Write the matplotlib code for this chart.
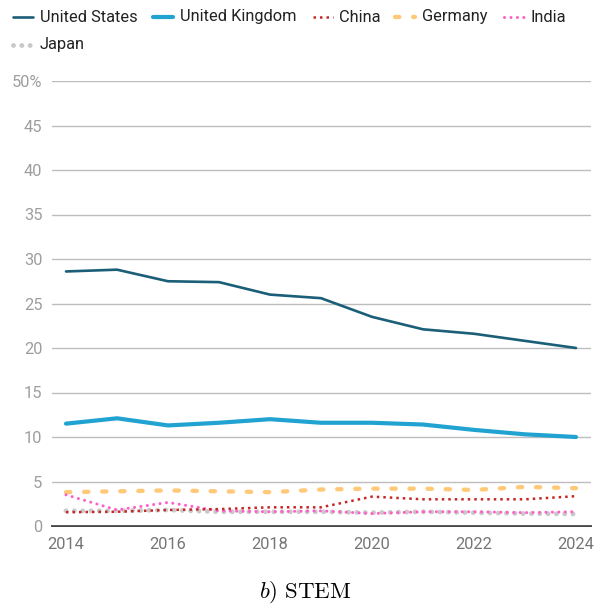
import matplotlib
matplotlib.use("Agg")
import matplotlib.pyplot as plt
from matplotlib.lines import Line2D

plt.rcParams['font.family'] = ['Roboto', 'DejaVu Sans']
plt.rcParams['mathtext.fontset'] = 'cm'

years = [2014, 2015, 2016, 2017, 2018, 2019, 2020, 2021, 2022, 2023, 2024]
united_states = [28.6, 28.8, 27.5, 27.4, 26.0, 25.6, 23.5, 22.1, 21.6, 20.8, 20.0]
united_kingdom = [11.5, 12.1, 11.3, 11.6, 12.0, 11.6, 11.6, 11.4, 10.8, 10.3, 10.0]
china = [1.55, 1.6, 1.8, 1.9, 2.1, 2.1, 3.3, 3.0, 3.0, 3.0, 3.35]
germany = [3.8, 3.9, 4.0, 3.9, 3.8, 4.1, 4.2, 4.2, 4.05, 4.4, 4.25]
india = [3.5, 1.8, 2.65, 1.7, 1.6, 1.7, 1.4, 1.6, 1.6, 1.5, 1.6]
japan = [1.7, 1.7, 1.8, 1.6, 1.6, 1.6, 1.5, 1.6, 1.5, 1.4, 1.35]

series_names = ["United States", "United Kingdom", "China", "Germany", "India", "Japan"]
y_ticks = [0, 5, 10, 15, 20, 25, 30, 35, 40, 45, 50]
y_tick_labels = ["0", "5", "10", "15", "20", "25", "30", "35", "40", "45", "50%"]
x_ticks = [2014, 2016, 2018, 2020, 2022, 2024]
caption = r"$b)\ \mathrm{STEM}$"

W, H = 595, 607
fig = plt.figure(figsize=(W / 100, H / 100), dpi=100)
ax = fig.add_axes([52 / W, (H - 526) / H, (591 - 52) / W, (526 - 81) / H])

styles = [
    dict(color="#1b5e78", lw=1.9, ls="-", solid_capstyle="round", zorder=6),
    dict(color="#21a3d2", lw=3.0, ls="-", solid_capstyle="round", zorder=5),
    dict(color="#c62828", lw=1.8, ls=(0, (1, 1.6)), dash_capstyle="butt", zorder=4),
    dict(color="#ffc978", lw=3.1, ls=(0, (1.0, 3.2)), dash_capstyle="round", zorder=2),
    dict(color="#ff5fc8", lw=2.2, ls=(0, (0.01, 2.1)), dash_capstyle="round", zorder=3),
    dict(color="#c9c9c9", lw=3.5, ls=(0, (0.01, 1.7)), dash_capstyle="round", zorder=1),
]
data = [united_states, united_kingdom, china, germany, india, japan]
for vals, st in zip(data, styles):
    ax.plot(years, vals, **st)

ax.set_xlim(2014 - 14 / 51, 2024 + 15 / 51)
ax.set_ylim(0, 50)
ax.set_yticks(y_ticks)
ax.set_yticklabels(y_tick_labels)
ax.set_xticks(x_ticks)
ax.set_xticklabels([str(x) for x in x_ticks])
for s in ["top", "right", "left"]:
    ax.spines[s].set_visible(False)
ax.spines["bottom"].set_color("#333333")
ax.spines["bottom"].set_linewidth(1.3)
ax.spines["bottom"].set_zorder(0.5)
ax.grid(axis="y", color="#bdbdbd", lw=1.0)
ax.set_axisbelow(True)
ax.tick_params(axis="y", length=0, pad=7, labelsize=11.8, labelcolor="#9e9e9e")
ax.tick_params(axis="x", length=0, pad=8, labelsize=11.8, labelcolor="#757575")

# legend (manual layout)
def fx(px):
    return px / W

def fy(py):
    return 1 - py / H

legend_items = [
    (13, 40, 17), (153, 180, 17), (313, 339, 17), (395, 422, 17), (504, 530, 17), (13, 40, 45),
]
for name, st, (hx, tx, ly) in zip(series_names, styles, legend_items):
    kw = {k: v for k, v in st.items() if k not in ("zorder",)}
    line = Line2D([fx(hx), fx(hx + 20)], [fy(ly), fy(ly)], transform=fig.transFigure, **kw)
    fig.add_artist(line)
    fig.text(fx(tx), fy(ly), name, fontsize=11.8, color="#222222", va="center", ha="left")

fig.text(fx(305), fy(592), caption, fontsize=16.5, ha="center", va="center")

fig.savefig("out.png", dpi=100)
